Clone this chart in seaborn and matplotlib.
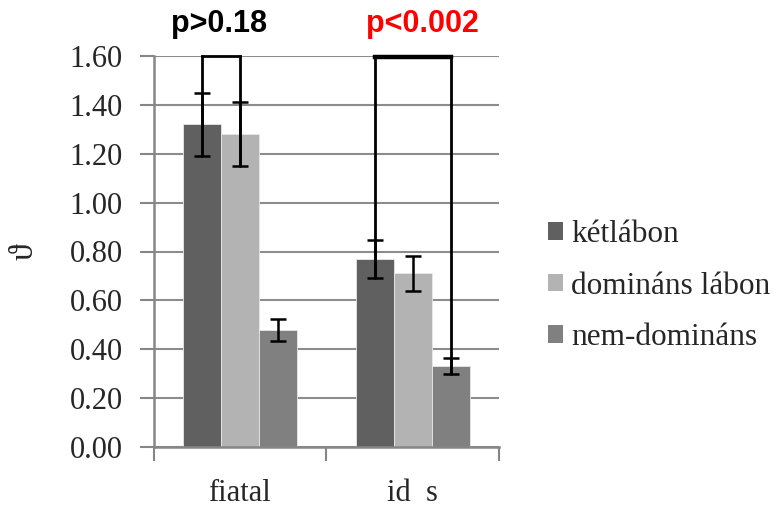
import matplotlib
matplotlib.use("Agg")
import matplotlib.pyplot as plt
from matplotlib.patches import Patch
import seaborn as sns
import pandas as pd
import numpy as np

# Data
groups = ["fiatal", "id  s"]
conditions = ["kétlábon", "domináns lábon", "nem-domináns"]
values = {
    "kétlábon": [1.32, 0.77],
    "domináns lábon": [1.28, 0.71],
    "nem-domináns": [0.48, 0.33],
}
errors = {
    "kétlábon": [0.13, 0.077],
    "domináns lábon": [0.13, 0.07],
    "nem-domináns": [0.045, 0.033],
}
colors = ["#606060", "#b3b3b3", "#808080"]
p_labels = ["p>0.18", "p<0.002"]
p_colors = ["black", "#ff0000"]
yticks = [0.0, 0.2, 0.4, 0.6, 0.8, 1.0, 1.2, 1.4, 1.6]

rows = []
for c in conditions:
    for g, v in zip(groups, values[c]):
        rows.append({"group": g, "cond": c, "value": v})
df = pd.DataFrame(rows)

sns.set_style("white")
serif = ["Liberation Serif", "DejaVu Serif"]
plt.rcParams["font.family"] = serif

fig = plt.figure(figsize=(7.84, 5.09), dpi=100)
ax = fig.add_axes([153.5 / 784, 1 - 447 / 509, (499 - 153.5) / 784, (447 - 56) / 509])

sns.barplot(data=df, x="group", y="value", hue="cond", hue_order=conditions,
            order=groups, palette=colors, saturation=1, width=0.66,
            errorbar=None, edgecolor="#e8e8e8", linewidth=0.6, ax=ax, legend=False)

# Error bars at each bar's centre
centers = {}
for i, c in enumerate(conditions):
    cont = ax.containers[i]
    xs = [p.get_x() + p.get_width() / 2 for p in cont.patches]
    centers[c] = xs
    ax.errorbar(xs, values[c], yerr=errors[c], fmt="none", ecolor="black",
                elinewidth=1.8, capsize=6, capthick=1.8, zorder=4)

ax.set_ylim(0, 1.6)
ax.set_xlim(-0.5, 1.5)
ax.set_yticks(yticks)
ax.set_yticklabels([f"{t:.2f}" for t in yticks], fontsize=22)
ax.yaxis.grid(True, color="#8c8c8c", linewidth=1.5)
ax.set_axisbelow(True)
ax.tick_params(axis="y", which="major", length=10, width=1.5, color="#868686", pad=12, left=True)

ax.set_xticks([0, 1])
ax.set_xticklabels(groups, fontsize=22)
ax.set_xticks([-0.5, 0.5, 1.5], minor=True)
ax.tick_params(axis="x", which="major", length=0, pad=23)
ax.tick_params(axis="x", which="minor", length=10, width=1.5, color="#868686", bottom=True)

for s in ["top", "right"]:
    ax.spines[s].set_visible(False)
for s in ["left", "bottom"]:
    ax.spines[s].set_color("#868686")
    ax.spines[s].set_linewidth(1.8)

ax.set_xlabel("")
ax.set_ylabel("ϑ", fontsize=24, labelpad=22)

# Significance brackets: (left x, right x, left foot, right foot, top, top line width)
brackets = [
    (centers["kétlábon"][0], centers["domináns lábon"][0],
     values["kétlábon"][0] - errors["kétlábon"][0],
     values["domináns lábon"][0] - errors["domináns lábon"][0], 1.6, 2.0),
    (centers["kétlábon"][1], centers["nem-domináns"][1],
     values["kétlábon"][1] - errors["kétlábon"][1],
     values["nem-domináns"][1] - errors["nem-domináns"][1], 1.595, 3.2),
]
for (x1, x2, y1, y2, top, lw) in brackets:
    ax.plot([x1, x1], [y1, top], color="black", lw=2.0, clip_on=False, zorder=5)
    ax.plot([x2, x2], [y2, top], color="black", lw=2.0, clip_on=False, zorder=5)
    ax.plot([x1, x2], [top, top], color="black", lw=lw, solid_capstyle="projecting",
            clip_on=False, zorder=5)

ax.text(-0.118, 1.70, p_labels[0], ha="center", va="baseline", fontsize=22,
        fontweight="bold", family=["Liberation Sans", "DejaVu Sans"],
        color=p_colors[0], clip_on=False)
ax.text(1.055, 1.70, p_labels[1], ha="center", va="baseline", fontsize=22,
        fontweight="bold", family=["Liberation Sans", "DejaVu Sans"],
        color=p_colors[1], clip_on=False)

handles = [Patch(facecolor=col, edgecolor="none") for col in colors]
fig.legend(handles, conditions, loc="center left", bbox_to_anchor=(535 / 784, 1 - 286 / 509),
           frameon=False, fontsize=22.5, handlelength=0.5, handleheight=0.5,
           handletextpad=0.25, labelspacing=0.72, borderaxespad=0)

fig.savefig("out.png", dpi=100)
